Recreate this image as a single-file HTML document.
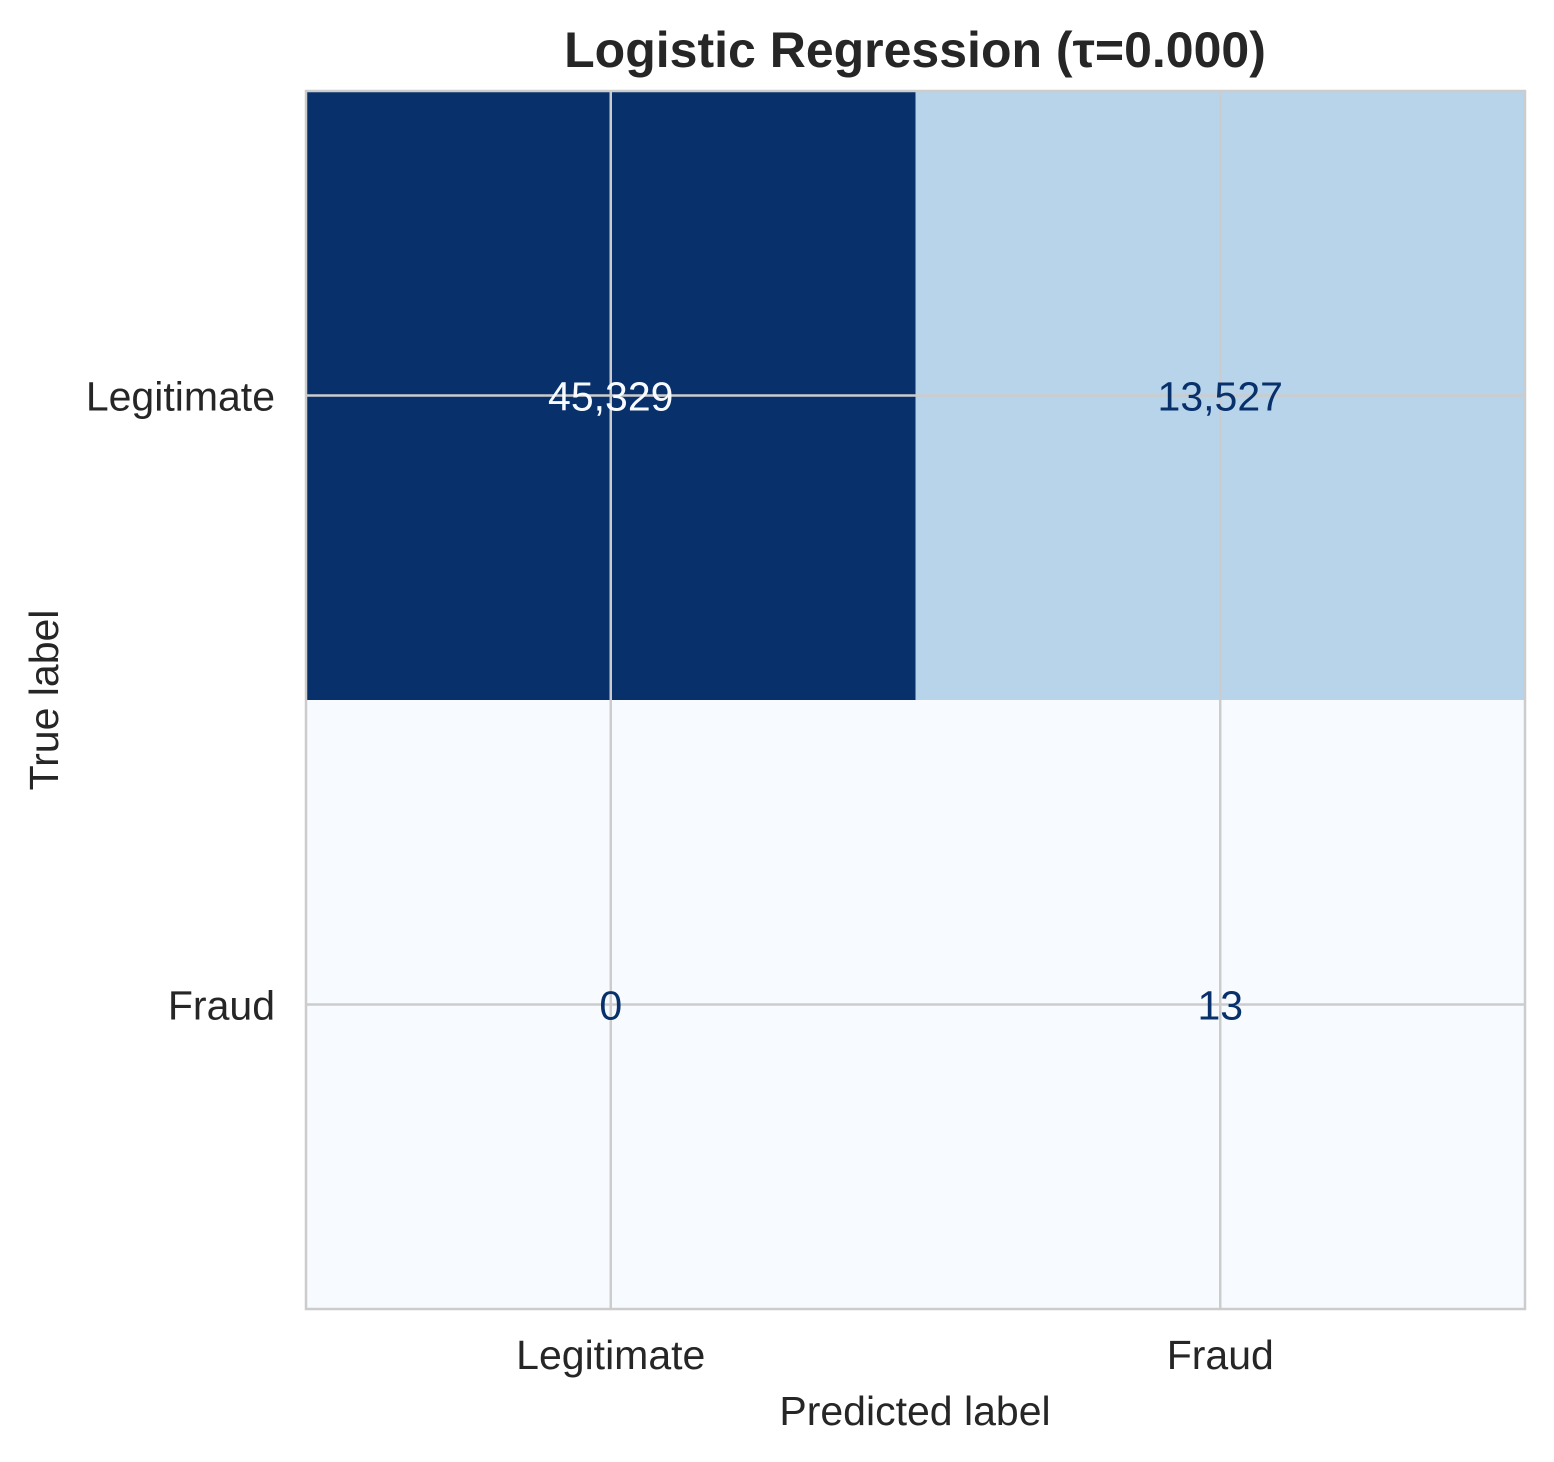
<!DOCTYPE html>
<html><head><meta charset="utf-8"><style>
html,body{margin:0;padding:0;background:#fff}
svg{display:block}
text{font-family:"Liberation Sans",Arial,sans-serif;fill:#262626}
</style></head><body>
<svg id="chart" width="1554" height="1462" viewBox="0 0 1554 1462">
<text x="915" y="67" text-anchor="middle" font-size="50" font-weight="bold">Logistic Regression (τ=0.000)</text>
<g id="cells"></g>
<g id="grid"></g>
<g id="vals"></g>
<rect x="306" y="91" width="1219" height="1218" fill="none" stroke="#cccccc" stroke-width="2.5"/>
<g id="ticks"></g>
<text x="915" y="1425" text-anchor="middle" font-size="41">Predicted label</text>
<text transform="translate(58,700) rotate(-90)" text-anchor="middle" font-size="41">True label</text>
</svg>
<script>
const classes = ["Legitimate", "Fraud"];
const row0 = [45329, 13527];
const row1 = [0, 13];
const valueLabels = [["45,329", "13,527"], ["0", "13"]];

const matrix = [row0, row1];
const X0 = 306, X1 = 1525, Y0 = 91, Y1 = 1309;
const n = classes.length;
const cw = (X1 - X0) / n, ch = (Y1 - Y0) / n;
const xPos = i => X0 + i * cw;
const yPos = i => Y0 + i * ch;
const blues = [[247,251,255],[222,235,247],[198,219,239],[158,202,225],[107,174,214],[66,146,198],[33,113,181],[8,81,156],[8,48,107]];
function cmap(t){
  t = Math.max(0, Math.min(1, t));
  const p = t * (blues.length - 1), i = Math.min(Math.floor(p), blues.length - 2), f = p - i;
  const c = blues[i].map((v, k) => Math.round(v + (blues[i+1][k] - v) * f));
  return `rgb(${c[0]},${c[1]},${c[2]})`;
}
const vmax = Math.max(...matrix.flat()), vmin = Math.min(...matrix.flat());
const NS = "http://www.w3.org/2000/svg";
const cells = document.getElementById('cells'), grid = document.getElementById('grid'), vals = document.getElementById('vals'), ticks = document.getElementById('ticks');
for (let r = 0; r < n; r++) for (let c = 0; c < n; c++) {
  const t = (matrix[r][c] - vmin) / (vmax - vmin);
  const rect = document.createElementNS(NS, 'rect');
  rect.setAttribute('x', xPos(c)); rect.setAttribute('y', yPos(r));
  rect.setAttribute('width', cw + 0.5); rect.setAttribute('height', ch + 0.5);
  rect.setAttribute('fill', cmap(t));
  
  
  cells.appendChild(rect);
  const tx = document.createElementNS(NS, 'text');
  tx.setAttribute('x', xPos(c) + cw / 2); tx.setAttribute('y', yPos(r) + ch / 2 + 15);
  tx.setAttribute('text-anchor', 'middle'); tx.setAttribute('font-size', '41');
  tx.setAttribute('style', 'fill:' + (t > 0.5 ? '#f7fbff' : '#08306b'));
  tx.textContent = valueLabels[r][c];
  
  
  vals.appendChild(tx);
}
for (let i = 0; i < n; i++) {
  const cx = xPos(i) + cw / 2, cy = yPos(i) + ch / 2;
  const vl = document.createElementNS(NS, 'line');
  vl.setAttribute('x1', cx); vl.setAttribute('x2', cx); vl.setAttribute('y1', Y0); vl.setAttribute('y2', Y1);
  vl.setAttribute('stroke', '#cccccc'); vl.setAttribute('stroke-width', '2.5');
  
  
  grid.appendChild(vl);
  const hl = document.createElementNS(NS, 'line');
  hl.setAttribute('x1', X0); hl.setAttribute('x2', X1); hl.setAttribute('y1', cy); hl.setAttribute('y2', cy);
  hl.setAttribute('stroke', '#cccccc'); hl.setAttribute('stroke-width', '2.5');
  
  
  grid.appendChild(hl);
  const xt = document.createElementNS(NS, 'text');
  xt.setAttribute('x', cx); xt.setAttribute('y', 1369);
  xt.setAttribute('text-anchor', 'middle'); xt.setAttribute('font-size', '41');
  xt.textContent = classes[i];
  
  
  ticks.appendChild(xt);
  const yt = document.createElementNS(NS, 'text');
  yt.setAttribute('x', 275); yt.setAttribute('y', cy + 15);
  yt.setAttribute('text-anchor', 'end'); yt.setAttribute('font-size', '41');
  yt.textContent = classes[i];
  
  
  ticks.appendChild(yt);
}
</script>
</body></html>
